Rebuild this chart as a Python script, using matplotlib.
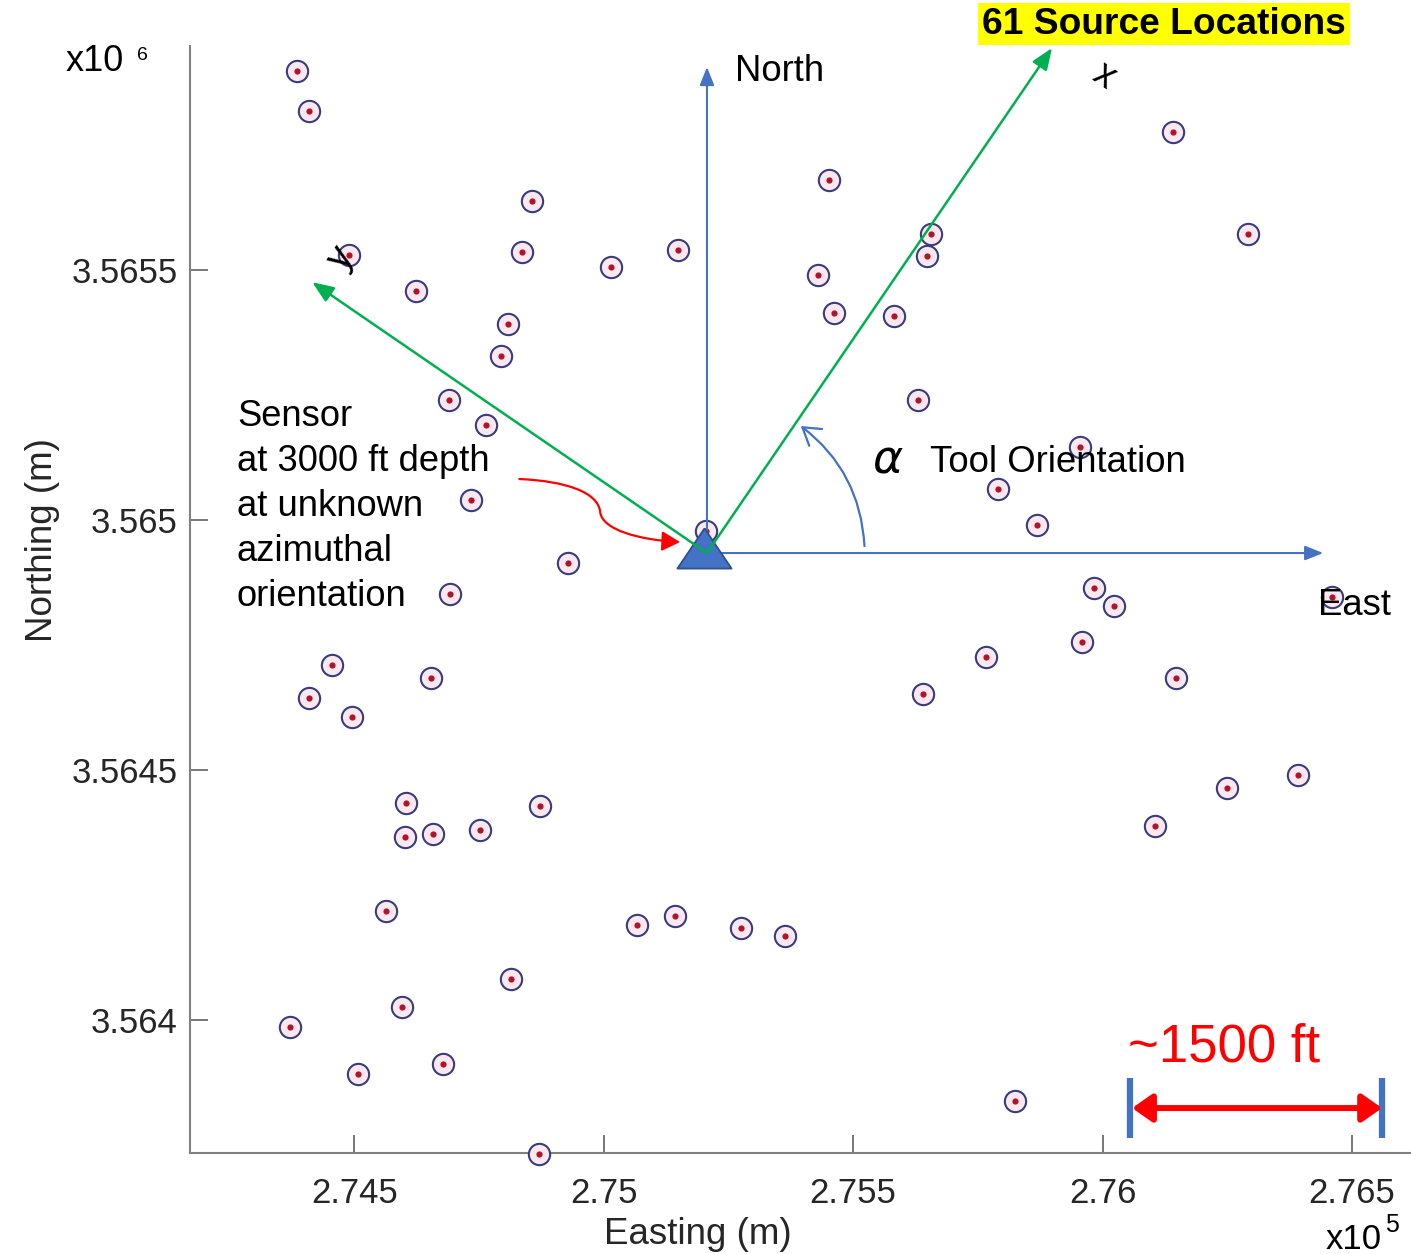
import numpy as np
import matplotlib
matplotlib.use("Agg")
import matplotlib.pyplot as plt
from matplotlib.patches import FancyArrowPatch
from matplotlib.path import Path

plt.rcParams["font.family"] = ["Liberation Sans", "DejaVu Sans"]

# ---- source locations (UTM, metres) ----
easting = [274386, 274410, 276141, 275452, 274857, 275656, 276292, 275648,
           274490, 274837, 275149, 275015, 275430, 274624, 275462, 275582,
           274809, 274795, 274690, 275630, 274765, 275955, 275791, 274734,
           275869, 275205, 274929, 275983, 276460, 274692, 276023, 275959,
           274456, 275767, 274410, 274654, 276147, 275640, 274496, 276392,
           276250, 274604, 274873, 276105, 274602, 274658, 274752, 274564,
           275143, 275067, 275276, 275364, 274815, 274596, 274372, 274678,
           274508, 275825, 274871]
northing = [3565898, 3565818, 3565776, 3565680, 3565638, 3565572, 3565572, 3565528,
            3565530, 3565536, 3565540, 3565506, 3565490, 3565458, 3565414, 3565408,
            3565392, 3565328, 3565240, 3565240, 3565190, 3565146, 3565062, 3565040,
            3564990, 3564978, 3564914, 3564864, 3564846, 3564852, 3564828, 3564756,
            3564710, 3564726, 3564644, 3564684, 3564684, 3564652, 3564606, 3564490,
            3564464, 3564434, 3564428, 3564388, 3564366, 3564372, 3564380, 3564218,
            3564208, 3564190, 3564184, 3564168, 3564082, 3564026, 3563986, 3563912,
            3563892, 3563838, 3563732]

x_ticks = [274500, 275000, 275500, 276000, 276500]
x_tick_labels = ["2.745", "2.75", "2.755", "2.76", "2.765"]
y_ticks = [3564000, 3564500, 3565000, 3565500]
y_tick_labels = ["3.564", "3.5645", "3.565", "3.5655"]

# sensor and tool geometry
sensor_e, sensor_n = 275207, 3564934
tool_angle = 55.6          # degrees from East
tool_x_len = 1224          # m, length of drawn tool x axis
tool_y_len = 959           # m, length of drawn tool y axis
north_len = 972            # m
east_len = 1235            # m
arc_radius = 316           # m
arc_start_deg = 2.5
arc_end_deg = 53.5

# scale bar (metres)
bar_left, bar_right = 276055, 276560
bar_n, bar_half = 3563824, 60

BLUE = "#4472c4"
GREEN = "#00b050"
RED = "#ff0000"
TEXT = "#000000"

fig = plt.figure(figsize=(14.11, 12.54), dpi=100)
ax = fig.add_axes([0.1347, 0.0805, 0.8653, 0.8828])
ax.set_xlim(274171, 276618)
ax.set_ylim(3563734, 3565948)

for side in ("top", "right"):
    ax.spines[side].set_visible(False)
for side in ("left", "bottom"):
    ax.spines[side].set_color("#808080")
    ax.spines[side].set_linewidth(1.5)

ax.set_xticks(x_ticks)
ax.set_xticklabels(x_tick_labels)
ax.set_yticks(y_ticks)
ax.set_yticklabels(y_tick_labels)
ax.tick_params(axis="both", direction="in", length=13, width=1.2, color="#606060",
               labelsize=25, labelcolor="#262626")
ax.tick_params(axis="x", pad=17)
ax.tick_params(axis="y", pad=9)

ax.set_xlabel("Easting (m)", fontsize=26.5, color="#262626", va="center")
ax.xaxis.set_label_coords(0.416, -0.074)
ax.set_ylabel("Northing (m)", fontsize=26.5, color="#262626", va="center")
ax.yaxis.set_label_coords(-0.1212, 0.5537)

# source markers: ringed circle with red centre dot
ax.scatter(easting, northing, s=235, facecolor="#fbe8ee", edgecolor="#373c7c",
           linewidths=1.5, zorder=3, clip_on=False)
ax.scatter(easting, northing, s=20, color="#b3122c", linewidths=0, zorder=3.5,
           clip_on=False)


def arrow(start, end, color, lw, hl, hw, z, style="-|>", **kw):
    p = FancyArrowPatch(start, end, arrowstyle=f"{style},head_length={hl},head_width={hw}",
                        mutation_scale=20, color=color, lw=lw, shrinkA=0, shrinkB=0,
                        zorder=z, clip_on=False, **kw)
    ax.add_patch(p)
    return p


origin = (sensor_e, sensor_n)
# geographic axes
arrow(origin, (sensor_e, sensor_n + north_len), BLUE, 1.5, 0.55, 0.22, 4)
arrow(origin, (sensor_e + east_len, sensor_n), BLUE, 1.5, 0.55, 0.22, 4)

# sensor triangle
tri = [(0, 25), (-27, -15), (27, -15), (0, 25)]
ax.plot([sensor_e - 6], [sensor_n], marker=tri, markersize=39, color=BLUE,
        markeredgecolor="#2f4f8f", markeredgewidth=1.3, zorder=6, clip_on=False)

# tool axes (x along tool_angle, y perpendicular)
t = np.deg2rad(tool_angle)
tx = (sensor_e + tool_x_len * np.cos(t), sensor_n + tool_x_len * np.sin(t))
ty = (sensor_e + tool_y_len * np.cos(t + np.pi / 2), sensor_n + tool_y_len * np.sin(t + np.pi / 2))
arrow(origin, tx, GREEN, 1.8, 0.65, 0.26, 7)
arrow(origin, ty, GREEN, 1.8, 0.65, 0.26, 7)

# orientation angle arc
a0, a1 = np.deg2rad(arc_start_deg), np.deg2rad(arc_end_deg)
arc_p0 = (sensor_e + arc_radius * np.cos(a0), sensor_n + arc_radius * np.sin(a0))
arc_p1 = (sensor_e + arc_radius * np.cos(a1), sensor_n + arc_radius * np.sin(a1))
arrow(arc_p0, arc_p1, BLUE, 1.6, 0.6, 0.38, 4, style="->",
      connectionstyle="arc3,rad=0.23")

# pointer from the sensor note to the triangle
pointer = Path([(274831, 3565082), (274923, 3565078), (274989, 3565056), (274993, 3565016),
                (274997, 3564980), (275073, 3564960), (275153, 3564956)],
               [Path.MOVETO, Path.CURVE4, Path.CURVE4, Path.CURVE4,
                Path.CURVE4, Path.CURVE4, Path.CURVE4])
ax.add_patch(FancyArrowPatch(path=pointer, arrowstyle="-|>,head_length=0.55,head_width=0.3",
                             mutation_scale=20, color=RED, lw=1.6, zorder=7))

# scale bar
ax.plot([bar_left, bar_left], [bar_n - bar_half, bar_n + bar_half], color=BLUE, lw=4.5,
        solid_capstyle="butt", zorder=8, clip_on=False)
ax.plot([bar_right, bar_right], [bar_n - bar_half, bar_n + bar_half], color=BLUE, lw=4.5,
        solid_capstyle="butt", zorder=8, clip_on=False)
arrow((bar_left + 4, bar_n), (bar_right, bar_n), RED, 4.3, 0.6, 0.42, 8, style="<|-|>")
ax.text(276050, 3563918, "~1500 ft", color=RED, fontsize=38, ha="left", va="baseline",
        zorder=9)

# labels
ax.text(275264, 3565898, "North", fontsize=26.3, color=TEXT, ha="left", va="center", zorder=9)
ax.text(276432, 3564830, "East", fontsize=26.3, color=TEXT, ha="left", va="center", zorder=9)
ax.text(275570, 3565120, r"$\alpha$", fontsize=33, color=TEXT, ha="center", va="center",
        zorder=9)
ax.text(275654, 3565116, "Tool Orientation", fontsize=26.3, color=TEXT, ha="left",
        va="center", zorder=9)
ax.text(276003, 3565888, "x", fontsize=27, color=TEXT, ha="center", va="center",
        rotation=-34, rotation_mode="anchor", zorder=9)
ax.text(274474, 3565524, "y", fontsize=27, color=TEXT, ha="center", va="center",
        rotation=56, rotation_mode="anchor", zorder=9)

sensor_lines = ["Sensor", "at 3000 ft depth", "at unknown", "azimuthal", "orientation"]
for i, line in enumerate(sensor_lines):
    ax.text(274265, 3565208 - i * 90, line, fontsize=26.2, color=TEXT, ha="left",
            va="center", zorder=9)

ax.text(276123, 3565992, "61 Source Locations", fontsize=26.7, fontweight="bold",
        color=TEXT, ha="center", va="center", zorder=9, clip_on=False,
        bbox=dict(boxstyle="square,pad=0.1", facecolor="#ffff00", edgecolor="none"))

# axis multipliers
fig.text(0.0468, 0.9434, "x10", fontsize=26, color=TEXT, ha="left", va="baseline")
fig.text(0.0971, 0.9522, "6", fontsize=14, color=TEXT, ha="left", va="baseline")
fig.text(0.9398, 0.0040, "x10", fontsize=25, color=TEXT, ha="left", va="baseline")
fig.text(0.9813, 0.0175, "5", fontsize=18, color=TEXT, ha="left", va="baseline")

fig.savefig("out.png", dpi=100, facecolor="white")
